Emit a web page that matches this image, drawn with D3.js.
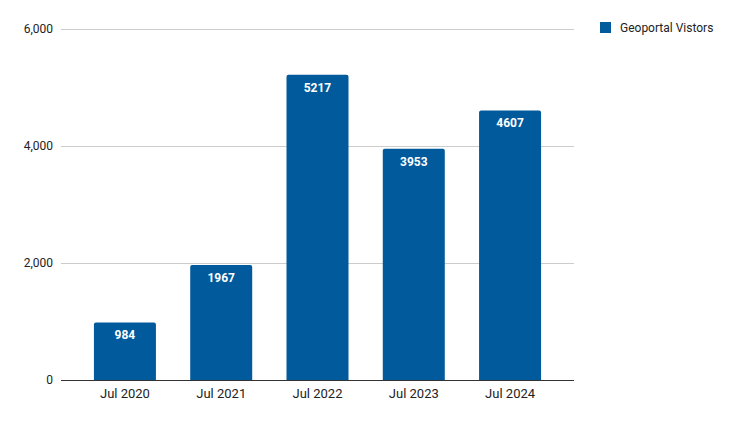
<!DOCTYPE html>
<html><head><meta charset="utf-8">
<script src="https://cdn.jsdelivr.net/npm/d3@7"></script>
<style>body{margin:0;background:#fff}svg{display:block;font-family:Roboto,sans-serif}</style>
</head><body>
<svg id="c" width="735" height="423"></svg>
<script>
const categories = ["Jul 2020","Jul 2021","Jul 2022","Jul 2023","Jul 2024"];
const visitors = [984,1967,5217,3953,4607];
const yTicks = [0,2000,4000,6000];
const seriesName = "Geoportal Vistors";

(function(){
const svg = d3.select("#c");
const color = "#005a9c";
const mLeft = 61, mRight = 574, mTop = 29, mBottom = 380;
const x = d3.scaleBand().domain(categories).range([mLeft,mRight]).paddingInner(0.356).paddingOuter(0.342);
const y = d3.scaleLinear().domain([0,6000]).range([mBottom,mTop]);

// gridlines
svg.append("g").selectAll("line").data(yTicks.filter(d=>d>0)).join("line")
  .attr("x1",mLeft).attr("x2",mRight).attr("y1",d=>y(d)+0.5).attr("y2",d=>y(d)+0.5)
  .attr("stroke","#cccccc").attr("stroke-width",1);

// y axis labels
const yAxis = d3.axisLeft(y).tickValues(yTicks).tickSize(0).tickPadding(8).tickFormat(d3.format(","));
const yg = svg.append("g").attr("transform",`translate(${mLeft},0)`).call(yAxis);
yg.select(".domain").remove();
yg.selectAll("text").attr("font-size",12).attr("fill","#222").attr("font-family","Roboto,sans-serif");

// bars with rounded top corners
const r = 2;
svg.append("g").selectAll("path").data(categories).join("path")
  .attr("fill",color)
  .attr("d",(c,i)=>{
    const x0 = x(c), w = x.bandwidth(), y0 = y(visitors[i]), yb = y(0);
    return `M${x0},${yb}V${y0+r}Q${x0},${y0} ${x0+r},${y0}H${x0+w-r}Q${x0+w},${y0} ${x0+w},${y0+r}V${yb}Z`;
  });

// baseline
svg.append("line").attr("x1",mLeft).attr("x2",mRight).attr("y1",mBottom+0.5).attr("y2",mBottom+0.5)
  .attr("stroke","#333").attr("stroke-width",1);

// value labels
svg.append("g").selectAll("text").data(categories).join("text")
  .attr("x",c=>x(c)+x.bandwidth()/2).attr("y",(c,i)=>y(visitors[i])+17)
  .attr("text-anchor","middle").attr("fill","#fff").attr("font-weight","bold").attr("font-size",12)
  .text((c,i)=>visitors[i]);

// x axis labels
const xAxis = d3.axisBottom(x).tickSize(0).tickPadding(9);
const xg = svg.append("g").attr("transform",`translate(0,${mBottom})`).call(xAxis);
xg.select(".domain").remove();
xg.selectAll("text").attr("font-size",13).attr("fill","#222").attr("font-family","Roboto,sans-serif");

// legend
const lg = svg.append("g").attr("transform","translate(600,22)");
lg.append("rect").attr("width",11).attr("height",11).attr("fill",color);
lg.append("text").attr("x",20).attr("y",10).attr("font-size",12).attr("fill","#222").text(seriesName);
})();
</script>
</body></html>
